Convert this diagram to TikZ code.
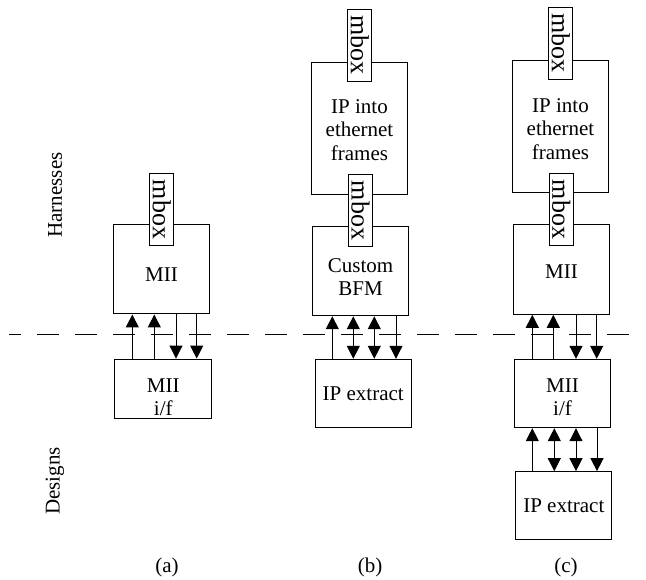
\documentclass[tikz,border=0pt]{standalone}
\usepackage{fontspec}
\setmainfont{Liberation Serif}
\usetikzlibrary{arrows.meta}
\begin{document}
\begin{tikzpicture}[x=1pt,y=-1pt,
  box/.style n args={2}{draw,line width=1pt,inner sep=0pt,minimum width=#1,minimum height=#2},
  mb/.style={draw,fill=white,line width=1pt,inner sep=0pt,rotate=-90,minimum width=72pt,minimum height=23.5pt,font=\fontsize{26}{28}\selectfont},
  lbl/.style={font=\fontsize{21}{23.5}\selectfont,align=center,inner sep=0pt},
  tip/.tip={Triangle[width=13pt,length=13pt]},
  upar/.style={line width=1pt,-tip},
  dnar/.style={line width=1pt,tip-},
  bothar/.style={line width=1pt,tip-tip},
  sep/.style={line width=1pt,dash pattern=on 22pt off 16pt,dash phase=10pt}]
\useasboundingbox (0,0) rectangle (646,580);

% ---------- (a)
\node[box={95.7pt}{89pt}] (MIIa) at (161.2,269.5) {};
\node[box={96.7pt}{59.3pt}] (IFa) at (163.3,388.7) {};
\node[mb] (mba) at (161.7,209.5) {mbox};
\node[lbl] (tMIIa) at (161.5,275) {MII};
\node[lbl] (tIFa) at (163.3,397) {MII\\i/f};

% ---------- (b)
\node[box={95.6pt}{131.7pt}] (IPb) at (359.5,128.2) {};
\node[box={95.6pt}{89.7pt}] (BFMb) at (360.5,270.9) {};
\node[box={95.7pt}{68.4pt}] (IPXb) at (363.2,393.5) {};
\node[mb] (mbb1) at (359.7,45.2) {mbox};
\node[mb] (mbb2) at (360.5,210.5) {mbox};
\node[lbl] (tIPb) at (359.5,130) {IP into\\ethernet\\frames};
\node[lbl] (tBFMb) at (360.5,277) {Custom\\BFM};
\node[lbl] (tIPXb) at (363.2,393.5) {IP extract};

% ---------- (c)
\node[box={95.6pt}{131.7pt}] (IPc) at (560.5,126.8) {};
\node[box={95.6pt}{90pt}] (MIIc) at (561.5,269.3) {};
\node[box={96.4pt}{68.4pt}] (IFc) at (562.5,393.5) {};
\node[box={96.3pt}{68.3pt}] (IPXc) at (563.8,505.8) {};
\node[mb] (mbc1) at (560.7,43.3) {mbox};
\node[mb] (mbc2) at (561.3,209.5) {mbox};
\node[lbl] (tIPc) at (560.5,129) {IP into\\ethernet\\frames};
\node[lbl] (tMIIc) at (561.5,272) {MII};
\node[lbl] (tIFc) at (562.5,397) {MII\\i/f};
\node[lbl] (tIPXc) at (563.8,506) {IP extract};

% ---------- arrow x positions
\coordinate (xa1) at (132.3,0);
\coordinate (xa2) at (154.3,0);
\coordinate (xa3) at (176,0);
\coordinate (xa4) at (196.7,0);
\coordinate (xb1) at (332.3,0);
\coordinate (xb2) at (353.3,0);
\coordinate (xb3) at (374.3,0);
\coordinate (xb4) at (396,0);
\coordinate (xc1) at (532.3,0);
\coordinate (xc2) at (553.3,0);
\coordinate (xc3) at (576,0);
\coordinate (xc4) at (596.7,0);
\coordinate (xd1) at (532.3,0);
\coordinate (xd2) at (554.3,0);
\coordinate (xd3) at (576,0);
\coordinate (xd4) at (597,0);

% (a) arrows
\draw[upar] (IFa.north -| xa1) -- (MIIa.south -| xa1);
\draw[upar] (IFa.north -| xa2) -- (MIIa.south -| xa2);
\draw[dnar] (IFa.north -| xa3) -- (MIIa.south -| xa3);
\draw[dnar] (IFa.north -| xa4) -- (MIIa.south -| xa4);
% (b) arrows
\draw[upar] (IPXb.north -| xb1) -- (BFMb.south -| xb1);
\draw[bothar] (IPXb.north -| xb2) -- (BFMb.south -| xb2);
\draw[bothar] (IPXb.north -| xb3) -- (BFMb.south -| xb3);
\draw[dnar] (IPXb.north -| xb4) -- (BFMb.south -| xb4);
% (c) arrows
\draw[upar] (IFc.north -| xc1) -- (MIIc.south -| xc1);
\draw[upar] (IFc.north -| xc2) -- (MIIc.south -| xc2);
\draw[dnar] (IFc.north -| xc3) -- (MIIc.south -| xc3);
\draw[dnar] (IFc.north -| xc4) -- (MIIc.south -| xc4);
\draw[upar] (IPXc.north -| xd1) -- (IFc.south -| xd1);
\draw[bothar] (IPXc.north -| xd2) -- (IFc.south -| xd2);
\draw[bothar] (IPXc.north -| xd3) -- (IFc.south -| xd3);
\draw[dnar] (IPXc.north -| xd4) -- (IFc.south -| xd4);

% separator
\coordinate (dl) at (9,335);
\coordinate (dr) at (640,335);
\draw[sep] (dl) -- (dr);

% side labels
\node[lbl,rotate=90] (harn) at (55,195) {Harnesses};
\node[lbl,rotate=90] (des) at (55,481) {Designs};

% captions
\node[lbl] (capa) at (167,567) {(a)};
\node[lbl] (capb) at (370,567) {(b)};
\node[lbl] (capc) at (566,567) {(c)};
\end{tikzpicture}
\end{document}
